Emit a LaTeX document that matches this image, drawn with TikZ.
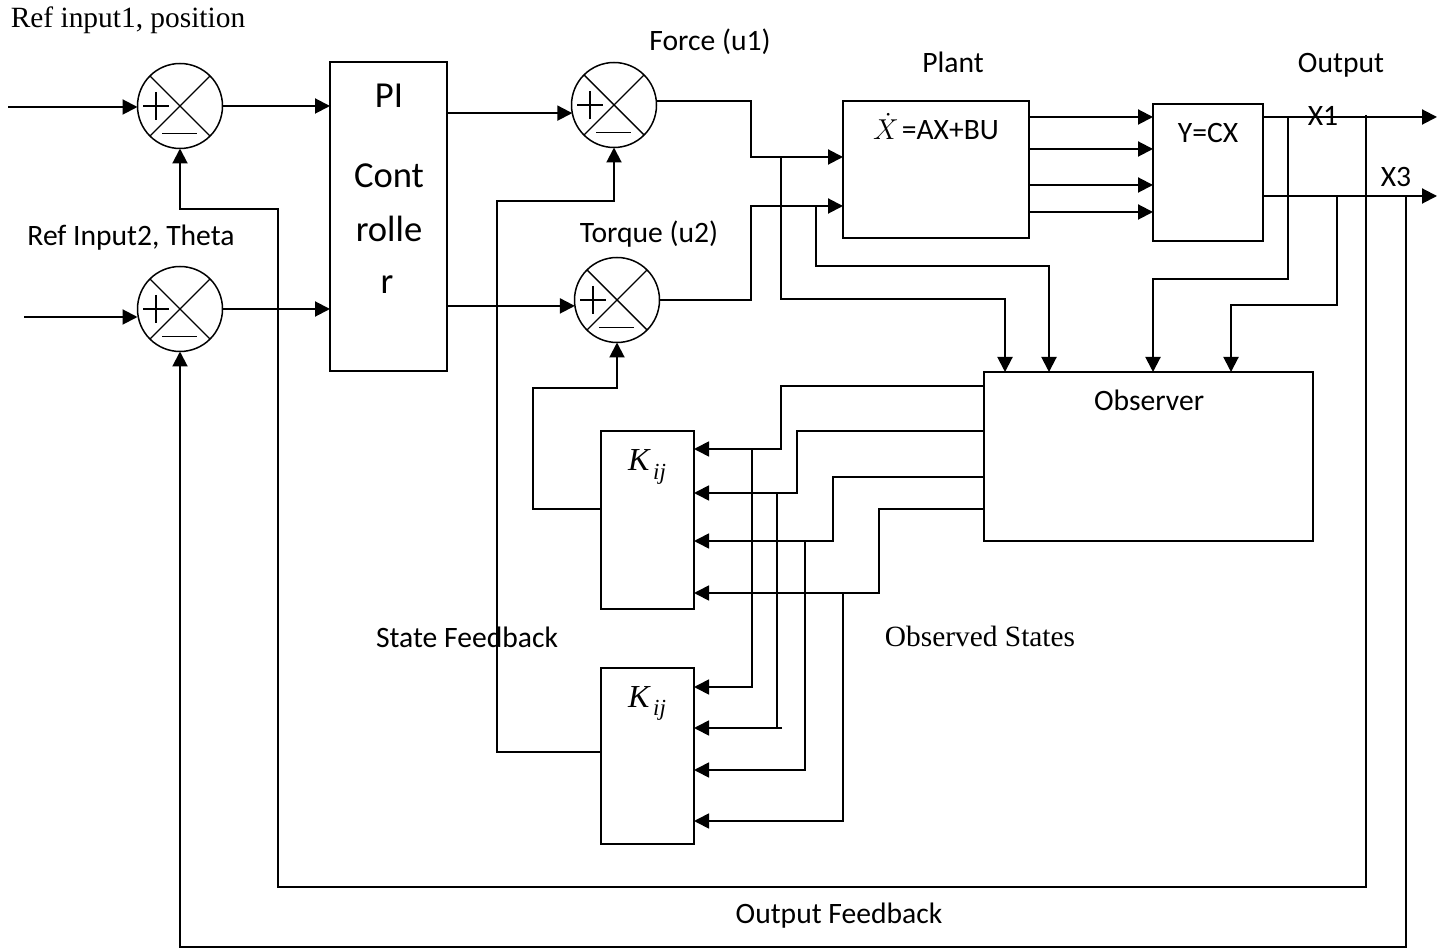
\documentclass[tikz,border=0pt]{standalone}
\usepackage{fontspec}
\setmainfont{Carlito}
\newfontfamily\tnr{Liberation Serif}
\usetikzlibrary{arrows.meta}
\tikzset{
  ln/.style={line width=1pt},
  arr/.style={line width=1pt, -{Triangle[length=7.5pt,width=7.5pt]}},
  thinarr/.style={line width=0.85pt, -{Triangle[length=7.5pt,width=7.5pt]}},
  box/.style={draw, line width=0.8pt, inner sep=0pt, outer sep=0pt},
  sum/.style={circle, draw, line width=0.75pt, minimum size=42.5pt, inner sep=0pt, outer sep=0pt,
    path picture={
      \draw[line width=0.7pt] ([shift={(45:21.25pt)}]path picture bounding box.center) -- ([shift={(225:21.25pt)}]path picture bounding box.center);
      \draw[line width=0.7pt] ([shift={(135:21.25pt)}]path picture bounding box.center) -- ([shift={(-45:21.25pt)}]path picture bounding box.center);
      \draw[line width=0.7pt] ([shift={(-18.5pt,0pt)}]path picture bounding box.center) -- ++(13pt,0pt);
      \draw[line width=0.7pt] ([shift={(-12pt,7pt)}]path picture bounding box.center) -- ++(0pt,-14pt);
      \draw[line width=0.7pt] ([shift={(-9pt,-13.75pt)}]path picture bounding box.center) -- ++(17.5pt,0pt);
    }},
  lbl/.style={inner sep=0pt, anchor=base, font=\fontsize{14.8}{17}\selectfont},
  big/.style={font=\fontsize{18.3}{22}\selectfont},
  times/.style={font=\tnr\fontsize{14.7}{17}\selectfont},
  kij/.style={font=\tnr\itshape\fontsize{16}{18}\selectfont},
}
\newcommand{\kijtext}{K\raisebox{-0.28em}{\fontsize{11.5}{12}\selectfont\,ij}}
\begin{document}
\begin{tikzpicture}[x=0.5pt,y=-0.5pt]
\useasboundingbox (0,0) rectangle (1450,951);

% blocks
\node[sum] (s1) at (180,106) {};
\node[sum] (s2) at (180,309) {};
\node[sum] (s3) at (614,105) {};
\node[sum] (s4) at (617,300) {};
\node[box, minimum width=58.5pt, minimum height=154.5pt] (PI) at (388.5,216.5) {};
\node[box, minimum width=93pt, minimum height=68.5pt] (plant) at (936,169.5) {};
\node[box, minimum width=55pt, minimum height=68.5pt] (ycx) at (1208,172.5) {};
\node[box, minimum width=164.5pt, minimum height=84.5pt] (obs) at (1148.5,456.5) {};
\node[box, minimum width=46.5pt, minimum height=89pt] (k1) at (647.5,520) {};
\node[box, minimum width=46.5pt, minimum height=88pt] (k2) at (647.5,756) {};

% texts
\node[lbl,times] (tref1) at (128,28) {Ref input1, position};
\node[lbl] (tref2) at (131,246) {Ref Input2, Theta};
\node[lbl,big] (tpi1) at (389,108) {PI};
\node[lbl,big] (tpi2) at (389,188) {Cont};
\node[lbl,big] (tpi3) at (389,242) {rolle};
\node[lbl,big] (tpi4) at (387,294) {r};
\node[lbl] (tforce) at (710,51) {Force (u1)};
\node[lbl] (ttorque) at (649,243) {Torque (u2)};
\node[lbl] (tplant) at (953,73) {Plant};
\node[lbl] (tout) at (1341,73) {Output};
\node[lbl] (tx1) at (1323,126) {X1};
\node[lbl] (tx3) at (1396,187) {X3};
\node[lbl] (teq) at (936,140) {$\dot{X}$\kern1.5pt=AX+BU};
\node[lbl] (tycx) at (1208,143) {Y=CX};
\node[lbl] (tobs) at (1149,411) {Observer};
\node[lbl,kij] (tk1) at (647,471) {\kijtext};
\node[lbl,kij] (tk2) at (647,707) {\kijtext};
\node[lbl] (tsf) at (467,647) {State Feedback};
\node[lbl,times] (tos) at (980,646) {Observed States};
\node[lbl] (tof) at (839,923) {Output Feedback};

% reference inputs
\coordinate (in1) at (8,107);
\coordinate (in2) at (24,317);
\draw[arr] (in1) -- (in1 -| s1.west);
\draw[arr] (in2) -- (in2 -| s2.west);
\draw[arr] (s1.east) -- (s1.east -| PI.west);
\draw[arr] (s2.east) -- (s2.east -| PI.west);
\draw[arr] (PI.east |- s3.191) -- (s3.191);
\draw[arr] (PI.east |- s4.188) -- (s4.188);

% to plant
\coordinate (a1) at (751,157);
\coordinate (a2) at (751,206);
\draw[arr] (s3.5) -| (a1) -- (a1 -| plant.west);
\draw[arr] (s4.east) -| (a2) -- (a2 -| plant.west);
\coordinate (b1) at (781,157);
\coordinate (b1d) at (1005,299);
\draw[arr] (b1) |- (b1d) -- (b1d |- obs.north);
\coordinate (b2) at (816,206);
\coordinate (b2d) at (1049,266);
\draw[arr] (b2) |- (b2d) -- (b2d |- obs.north);

% plant to output block
\coordinate (p1) at (0,117);
\coordinate (p2) at (0,149);
\coordinate (p3) at (0,185);
\coordinate (p4) at (0,212);
\draw[arr] (plant.east |- p1) -- (ycx.west |- p1);
\draw[arr] (plant.east |- p2) -- (ycx.west |- p2);
\draw[arr] (plant.east |- p3) -- (ycx.west |- p3);
\draw[arr] (plant.east |- p4) -- (ycx.west |- p4);

% outputs
\coordinate (x1e) at (1437,117);
\coordinate (x3e) at (1437,196);
\draw[arr] (ycx.east |- x1e) -- (x1e);
\draw[arr] (ycx.east |- x3e) -- (x3e);
\coordinate (c1) at (1288,117);
\coordinate (c1d) at (1153,279);
\draw[arr] (c1) |- (c1d) -- (c1d |- obs.north);
\coordinate (c2) at (1337,196);
\coordinate (c2d) at (1231,305);
\draw[arr] (c2) |- (c2d) -- (c2d |- obs.north);

% output feedback
\coordinate (f1) at (1366,115);
\coordinate (f1b) at (278,887);
\coordinate (f1c) at (180,209);
\draw[arr] (f1) |- (f1b) |- (f1c) -- (s1.south);
\coordinate (g1) at (1406,196);
\coordinate (g1b) at (180,947);
\draw[arr] (g1) |- (g1b) -- (s2.south);

% observed states
\coordinate (oy1) at (0,386);
\coordinate (oy2) at (0,431);
\coordinate (oy3) at (0,477);
\coordinate (oy4) at (0,509);
\coordinate (ka1) at (781,449);
\coordinate (ka2) at (797,493);
\coordinate (ka3) at (833,541);
\coordinate (ka4) at (879,593);
\draw[thinarr] (obs.west |- oy1) -| (ka1) -- (ka1 -| k1.east);
\draw[thinarr] (obs.west |- oy2) -| (ka2) -- (ka2 -| k1.east);
\draw[thinarr] (obs.west |- oy3) -| (ka3) -- (ka3 -| k1.east);
\draw[thinarr] (obs.west |- oy4) -| (ka4) -- (ka4 -| k1.east);
\coordinate (kb1) at (752,449);
\coordinate (kc1) at (752,687);
\coordinate (kb2) at (777,493);
\coordinate (kc2) at (777,728);
\coordinate (kd2) at (782,728);
\coordinate (kb3) at (805,541);
\coordinate (kc3) at (805,770);
\coordinate (kb4) at (843,593);
\coordinate (kc4) at (843,821);
\draw[thinarr] (kb1) -- (kc1) -- (kc1 -| k2.east);
\draw[line width=0.85pt] (kb2) -- (kc2);
\draw[thinarr] (kd2) -- (kd2 -| k2.east);
\draw[thinarr] (kb3) -- (kc3) -- (kc3 -| k2.east);
\draw[thinarr] (kb4) -- (kc4) -- (kc4 -| k2.east);

% state feedback
\coordinate (ky1) at (0,509);
\coordinate (kk1) at (533,388);
\draw[arr] (k1.west |- ky1) -| (kk1) -| (s4.south);
\coordinate (ky2) at (0,752);
\coordinate (kk2) at (497,201);
\draw[arr] (k2.west |- ky2) -| (kk2) -| (s3.south);
\end{tikzpicture}
\end{document}
